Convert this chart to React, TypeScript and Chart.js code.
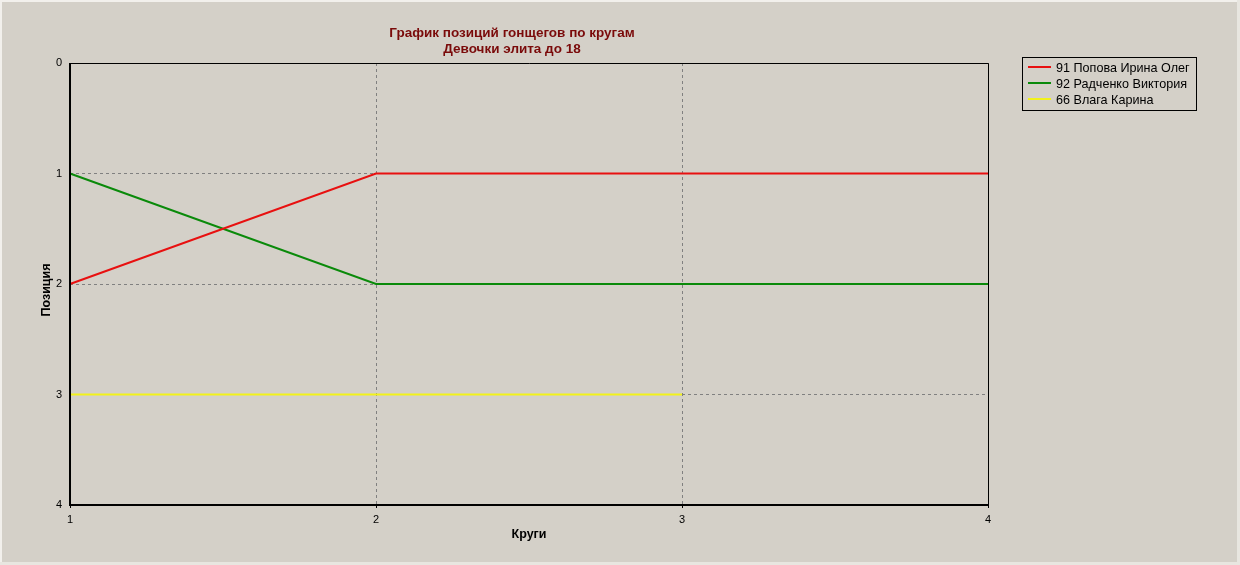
import React, { useEffect, useRef } from "react";
import { Chart, registerables } from "chart.js";

Chart.register(...registerables);

const laps = ["1", "2", "3", "4"];
const seriesNames = ["91 Попова Ирина Олег", "92 Радченко Виктория", "66 Влага Карина"];
const popova = [2, 1, 1, 1];
const radchenko = [1, 2, 2, 2];
const vlaga = [3, 3, 3, null];
const seriesColors = ["#e81010", "#0a8a0a", "#f2f21a"];
const titleLines = ["График позиций гонщегов по кругам", "Девочки элита до 18"];
const xTitle = "Круги";
const yTitle = "Позиция";

const FONT = "'Liberation Sans', Arial, sans-serif";

const decorPlugin = {
  id: "decor",
  beforeDraw(chart: any) {
    const ctx = chart.ctx;
    ctx.save();
    ctx.fillStyle = "#d4d0c8";
    ctx.fillRect(0, 0, chart.width, chart.height);
    ctx.fillStyle = "#f2f0ec";
    ctx.fillRect(0, 0, chart.width, 2);
    ctx.fillRect(0, 0, 2, chart.height);
    ctx.fillStyle = "#e8e6e0";
    ctx.fillRect(chart.width - 3, 0, 3, chart.height);
    ctx.fillRect(0, chart.height - 3, chart.width, 3);
    ctx.restore();
  },
  afterDraw(chart: any) {
    const ctx = chart.ctx;
    const area = chart.chartArea;
    ctx.save();
    ctx.strokeStyle = "#000";
    ctx.lineWidth = 1;
    ctx.beginPath();
    ctx.moveTo(area.left, area.top + 0.5);
    ctx.lineTo(area.right + 0.5, area.top + 0.5);
    ctx.lineTo(area.right + 0.5, area.bottom);
    ctx.stroke();
    ctx.lineWidth = 2;
    ctx.beginPath();
    ctx.moveTo(area.left, area.top);
    ctx.lineTo(area.left, area.bottom);
    ctx.lineTo(area.right + 1, area.bottom);
    ctx.stroke();

    // title
    ctx.fillStyle = "#7a0a0a";
    ctx.font = `bold 13.5px ${FONT}`;
    ctx.textAlign = "center";
    ctx.textBaseline = "middle";
    ctx.fillText(titleLines[0], 512, 33);
    ctx.fillText(titleLines[1], 512, 49);

    // axis titles
    ctx.fillStyle = "#000";
    ctx.font = `bold 12.5px ${FONT}`;
    ctx.fillText(xTitle, (area.left + area.right) / 2, 535);
    ctx.save();
    ctx.translate(47, 290);
    ctx.rotate(-Math.PI / 2);
    ctx.fillText(yTitle, 0, 0);
    ctx.restore();

    // legend
    const lx = 1022, ly = 57, lw = 174, lh = 53;
    ctx.fillStyle = "#d4d0c8";
    ctx.fillRect(lx, ly, lw, lh);
    ctx.strokeStyle = "#000";
    ctx.lineWidth = 1;
    ctx.strokeRect(lx + 0.5, ly + 0.5, lw, lh);
    ctx.font = `12.6px ${FONT}`;
    ctx.textAlign = "left";
    ctx.textBaseline = "middle";
    chart.data.datasets.forEach((ds: any, i: number) => {
      const y = ly + 10 + i * 16;
      ctx.strokeStyle = ds.borderColor;
      ctx.lineWidth = 2;
      ctx.beginPath();
      ctx.moveTo(lx + 6, y);
      ctx.lineTo(lx + 29, y);
      ctx.stroke();
      ctx.fillStyle = "#000";
      ctx.fillText(ds.label, lx + 34, y + 2);
    });
    ctx.restore();
  },
};

export default function App() {
  const ref = useRef<HTMLCanvasElement>(null);
  useEffect(() => {
    if (!ref.current) return;
    const chart = new Chart(ref.current, {
      type: "line",
      data: {
        labels: laps,
        datasets: [
          { label: seriesNames[0], data: popova, borderColor: seriesColors[0], borderWidth: 2, pointRadius: 0, tension: 0, fill: false },
          { label: seriesNames[1], data: radchenko, borderColor: seriesColors[1], borderWidth: 2, pointRadius: 0, tension: 0, fill: false },
          { label: seriesNames[2], data: vlaga, borderColor: seriesColors[2], borderWidth: 2, pointRadius: 0, tension: 0, fill: false, spanGaps: false },
        ],
      },
      options: {
        animation: false,
        responsive: false,
        maintainAspectRatio: false,
        events: [],
        layout: { padding: { left: 0, top: 63, right: 252, bottom: 0 } },
        plugins: { legend: { display: false }, title: { display: false }, tooltip: { enabled: false } },
        scales: {
          x: {
            type: "category",
            offset: false,
            afterFit: (s: any) => { s.height = 60; },
            grid: { color: "#808080", lineWidth: 1, drawTicks: true, tickLength: 3, tickColor: "#000" },
            border: { display: false, dash: [3, 3] },
            ticks: { color: "#000", font: { family: FONT, size: 11 }, padding: 5, maxRotation: 0 },
          },
          y: {
            reverse: true,
            min: 0,
            max: 4,
            afterFit: (s: any) => { s.width = 70; },
            grid: { color: "#808080", lineWidth: 1, drawTicks: false },
            border: { display: false, dash: [3, 3] },
            ticks: { stepSize: 1, color: "#000", font: { family: FONT, size: 11 }, padding: 8 },
          },
        },
      },
      plugins: [decorPlugin],
    });
    return () => chart.destroy();
  }, []);
  return (
    <div style={{ position: "absolute", left: 0, top: 0, width: 1240, height: 565 }}>
      <canvas ref={ref} width={1240} height={565} style={{ display: "block" }} />
    </div>
  );
}
